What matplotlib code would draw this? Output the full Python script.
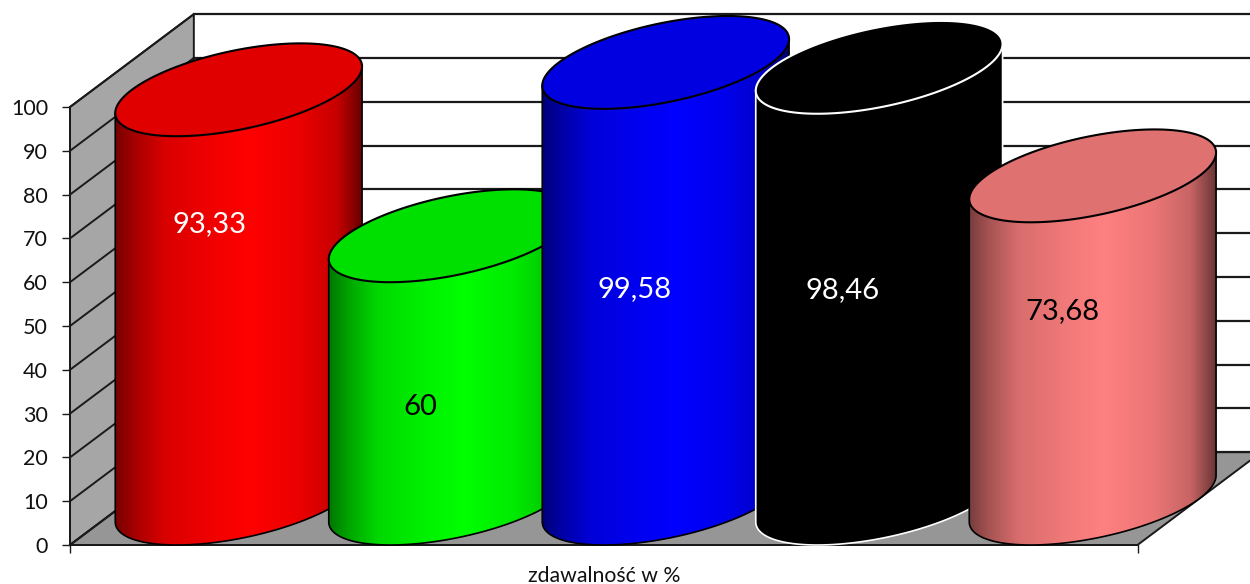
import numpy as np
import matplotlib
matplotlib.use("Agg")
import matplotlib.pyplot as plt
from matplotlib.patches import Polygon, PathPatch
from matplotlib.path import Path
from matplotlib.colors import to_rgb

# --- data ---
values = [93.33, 60, 99.58, 98.46, 73.68]
value_labels = ["93,33", "60", "99,58", "98,46", "73,68"]
bar_colors = ["#ff0000", "#00ff00", "#0000ff", "#000000", "#ff8080"]
edge_colors = ["black", "black", "black", "white", "black"]
label_colors = ["white", "black", "white", "white", "black"]
y_ticks = list(range(0, 101, 10))
x_title = "zdawalność w %"

# hand-placed data label anchors (category units, value units)
label_x = [0.655, 1.64, 2.645, 3.62, 4.65]
label_y = [73.3, 31.5, 58.5, 58.3, 53.5]

# --- styling / projection ---
W, H = 1250, 584
DX, DY = 0.58, 21.2          # depth vector of the 3D box
plt.rcParams["font.family"] = ["Lato", "DejaVu Sans"]
fig = plt.figure(figsize=(W / 100, H / 100), dpi=100, facecolor="white")
ax = fig.add_axes([70 / W, (H - 545) / H, (1137.5 - 70) / W, (545 - 107) / H])
ax.patch.set_visible(False)
LINE = "#1a1a1a"

# walls and floor
ax.add_patch(Polygon([(0, 0), (DX, DY), (DX, 100 + DY), (0, 100)], closed=True,
                     fc="#a6a6a6", ec=LINE, lw=1.4, clip_on=False, zorder=1))
ax.add_patch(Polygon([(0, 0), (5, 0), (5 + DX, DY), (DX, DY)], closed=True,
                     fc="#969696", ec=LINE, lw=1.4, clip_on=False, zorder=1))
for v in y_ticks:
    ax.plot([0, DX], [v, v + DY], color=LINE, lw=1.4, clip_on=False, zorder=1.5)
    ax.plot([DX, 5 + DX], [v + DY, v + DY], color=LINE, lw=1.6, clip_on=False, zorder=1.5)

# cylinders
AX, BX, BY = 0.5, DX / 2, DY / 2
t_r = np.arctan2(BX, AX)
shade_pos = [0, .08, .2, .4, .55, .75, .9, 1]
shade_val = [.47, .65, .85, .95, 1, .92, .78, .42]
ramp = np.interp(np.linspace(0, 1, 256), shade_pos, shade_val)
span = np.hypot(AX, BX)


def ellipse(cx, cy, t):
    return cx + AX * np.cos(t) + BX * np.sin(t), cy + BY * np.sin(t)


for i, v in enumerate(values):
    z = 3 + i
    cx, cy = i + 0.5 + DX / 2, DY / 2
    base = np.array(to_rgb(bar_colors[i]))
    ec = edge_colors[i]
    low = np.linspace(t_r + np.pi, t_r + 2 * np.pi, 90)
    up = np.linspace(t_r, t_r + np.pi, 90)
    bx, by = ellipse(cx, cy, low)
    tx, ty = ellipse(cx, cy + v, up)
    body = np.r_[np.c_[bx, by], np.c_[tx, ty]]
    clip = PathPatch(Path(np.r_[body, body[:1]], closed=True), transform=ax.transData)
    img = ax.imshow((ramp[:, None] * base)[None, :, :], aspect="auto",
                    extent=(cx - span, cx + span, 0, cy + v + BY + 2),
                    interpolation="bilinear", zorder=z, clip_on=True)
    img.set_clip_path(clip)
    img.set_clip_box(fig.bbox)
    # outline of side and base
    ax.plot(np.r_[tx[0], bx[::-1], tx[-1]], np.r_[ty[0], by[::-1], ty[-1]],
            color=ec, lw=1.2, clip_on=False, zorder=z + .1)
    # top cap
    tt = np.linspace(0, 2 * np.pi, 240)
    ex, ey = ellipse(cx, cy + v, tt)
    ax.add_patch(Polygon(np.c_[ex, ey], closed=True, fc=base * 0.88, ec=ec, lw=1.5,
                         clip_on=False, zorder=z + .2))
    ax.text(label_x[i], label_y[i], value_labels[i], color=label_colors[i],
            ha="center", va="center", fontsize=21, zorder=20)

ax.set_xlim(0, 5)
ax.set_ylim(0, 100)
ax.set_xticks([0, 5], ["", ""])
ax.set_yticks(y_ticks)
ax.tick_params(axis="both", length=5.8, width=1.0, color=LINE, labelsize=15.5,
               labelcolor="#111111")
ax.tick_params(axis="y", pad=10)
for s in ("top", "right"):
    ax.spines[s].set_visible(False)
for s in ("left", "bottom"):
    ax.spines[s].set_color(LINE)
    ax.spines[s].set_linewidth(1.4)
    ax.spines[s].set_zorder(2)
ax.set_xlabel(x_title, fontsize=15.3, color="#111111", labelpad=6)

fig.savefig("out.png", dpi=100, facecolor="white")
